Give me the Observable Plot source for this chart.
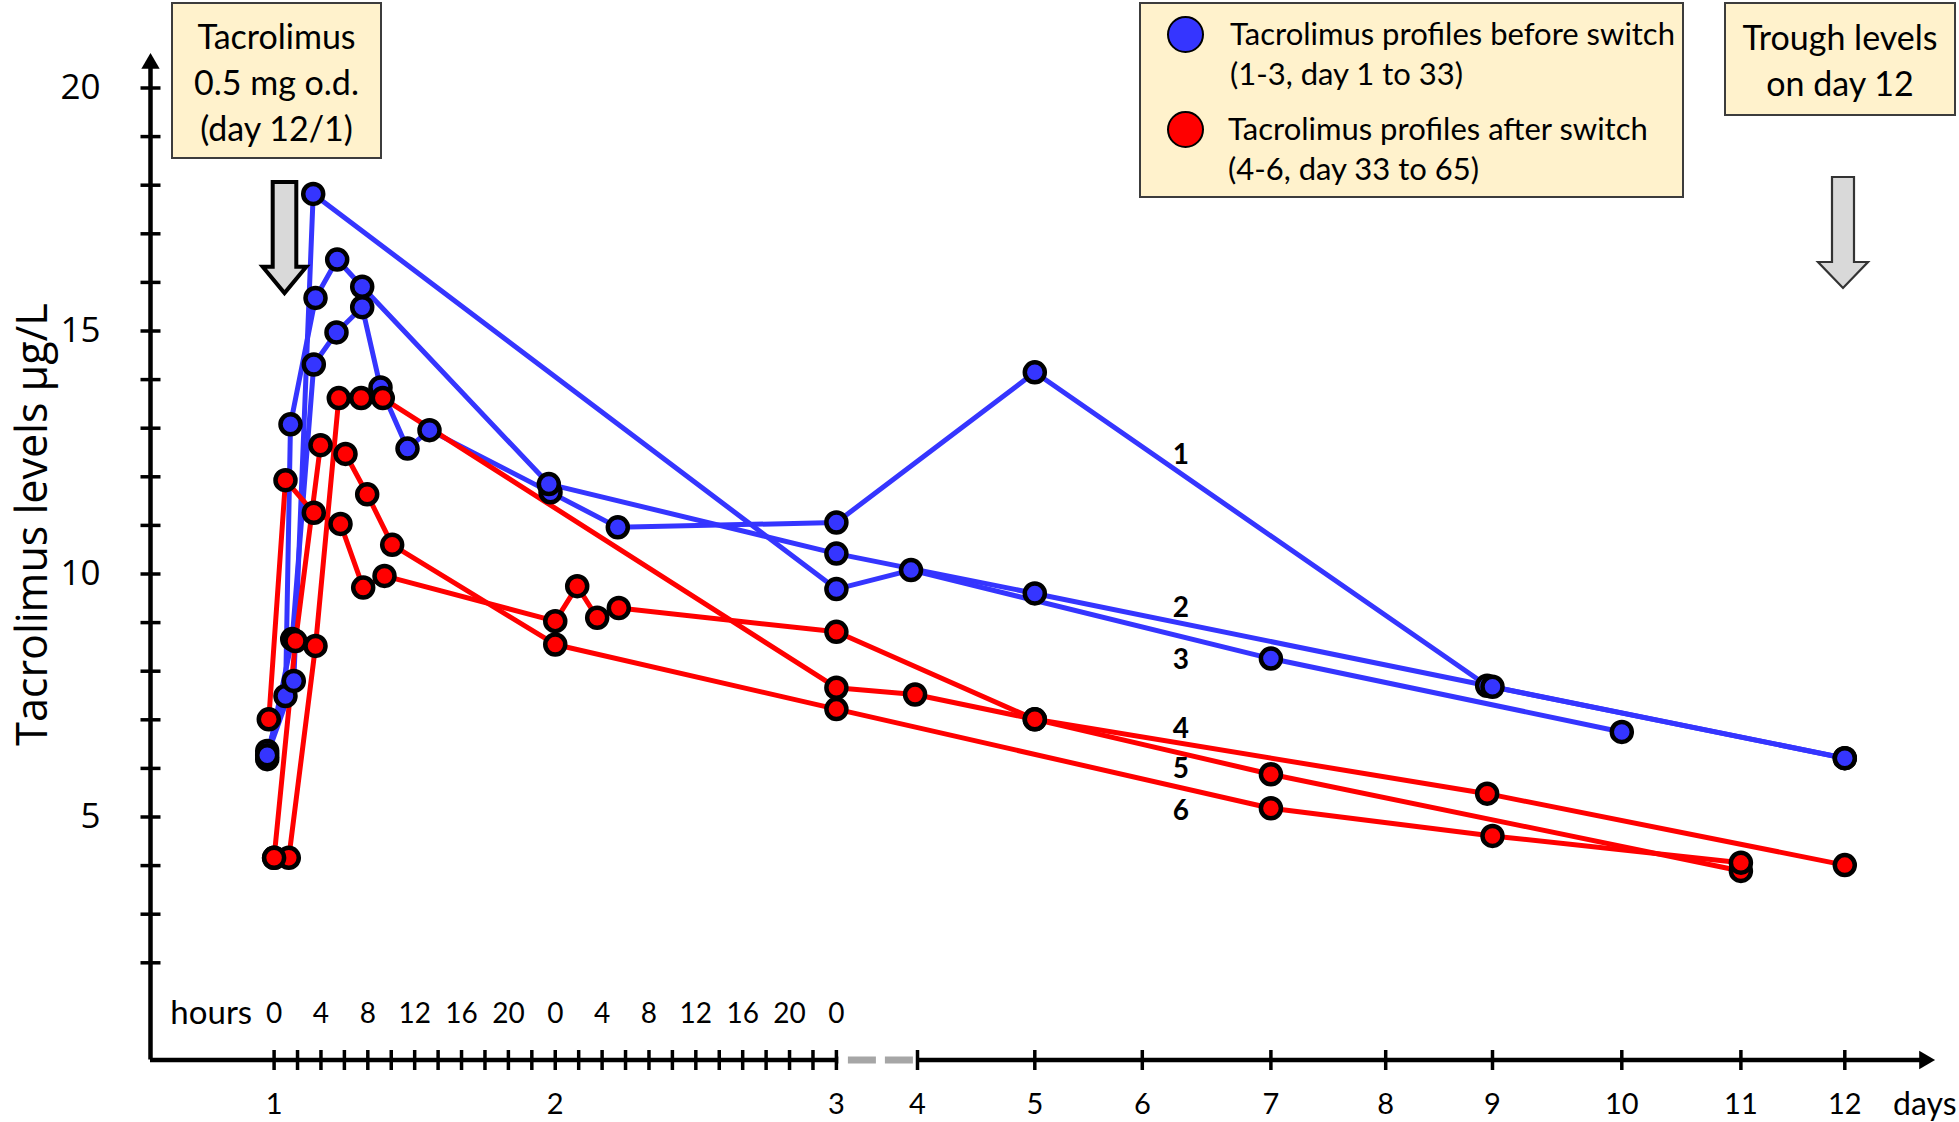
<!DOCTYPE html>
<html><head><meta charset="utf-8">
<script src="https://cdn.jsdelivr.net/npm/d3@7"></script>
<script src="https://cdn.jsdelivr.net/npm/@observablehq/plot@0.6"></script>
<style>
body{margin:0;background:#fff;}
#wrap{position:relative;width:1959px;height:1122px;overflow:hidden;background:#fff;}
#wrap > svg{position:absolute;left:0;top:0;}
.box{position:absolute;background:#fff2cc;border:2px solid #3c3c3c;box-sizing:border-box;font-family:Lato,sans-serif;color:#000;}
.ctr{text-align:center;font-size:34px;line-height:46px;}
.leg{position:absolute;font-family:Lato,sans-serif;font-size:31px;line-height:40px;white-space:nowrap;}
.sw{position:absolute;width:37px;height:37px;border-radius:50%;border:2px solid #000;box-sizing:border-box;}
.ov{position:absolute;left:0;top:0;}
</style></head><body><div id="wrap"></div>
<script>
// ---------- data ----------
const yDomain = [0, 20];
const yMinorTicks = [2,3,4,5,6,7,8,9,10,11,12,13,14,15,16,17,18,19,20];
const yLabelTicks = [5, 10, 15, 20];
const dayTicks = [1,2,3,4,5,6,7,8,9,10,11,12];
const hourLabelHours = [0,4,8,12,16,20,24,28,32,36,40,44,48];
const hourLabelText = ["0","4","8","12","16","20","0","4","8","12","16","20","0"];
const yTitle = "Tacrolimus levels µg/L";

// time in days (day 1, 0 h = 1.0), levels in µg/L
const p1Time  = [0.9755, 1.0644, 1.1412, 1.2219, 1.3134, 1.3784, 1.4745, 1.5527, 1.9831, 2.2225, 3, 5, 8.95, 12];
const p1Level = [6.19, 8.66, 14.31, 14.97, 15.49, 13.84, 12.58, 12.96, 11.68, 10.96, 11.06, 14.15, 7.70, 6.21];
const p2Time  = [0.9755, 1.0405, 1.0583, 1.1473, 1.2244, 1.3134, 1.9771, 3, 5, 9, 12];
const p2Level = [6.36, 7.49, 13.08, 15.68, 16.47, 15.91, 11.85, 10.42, 9.60, 7.68, 6.21];
const p3Time  = [0.9755, 1.0701, 1.1391, 3, 3.92, 7, 10];
const p3Level = [6.27, 7.80, 17.82, 9.69, 10.08, 8.26, 6.75];
const p4Time  = [0.9811, 1.0405, 1.1412, 1.2362, 1.3169, 1.3927, 2.0, 2.0781, 2.1492, 2.2260, 3, 5, 8.95, 12];
const p4Level = [7.01, 11.93, 11.26, 11.03, 9.72, 9.96, 9.03, 9.75, 9.10, 9.30, 8.81, 7.01, 5.48, 4.01];
const p5Time  = [1.0, 1.0523, 1.1473, 1.2301, 1.3098, 1.3866, 3, 3.97, 5, 7, 11];
const p5Level = [4.16, 4.16, 8.52, 13.62, 13.62, 13.62, 7.66, 7.52, 7.01, 5.88, 3.89];
const p6Time  = [1.0, 1.0761, 1.165, 1.254, 1.3311, 1.42, 2.0, 3, 7, 9, 11];
const p6Level = [4.16, 8.62, 12.65, 12.47, 11.64, 10.60, 8.55, 7.22, 5.18, 4.61, 4.06];

const profileNames = ["1","2","3","4","5","6"];
const profileGroup = ["before","before","before","after","after","after"];
const labelDay = [6.3, 6.3, 6.3, 6.3, 6.3, 6.3];
const labelLevel = [12.44, 9.31, 8.24, 6.80, 5.98, 5.13];

// ---------- layout / scales ----------
const W = 1959, H = 1122;
const marginLeft = 150, marginTop = 50, marginBottom = 62;
const xDomain = [1, 3, 4, 5, 6, 7, 8, 9, 10, 11, 12];
const xRange  = [273.6, 835.9, 917, 1034.3, 1141.8, 1270.4, 1385.2, 1492, 1621.3, 1740.4, 1844.3];
const yRange  = [1059.5, 87.5];
const BLUE = "#3535ff", RED = "#ff0000";

const xs = d3.scaleLinear(xDomain, xRange);
const ys = d3.scaleLinear(yDomain, yRange);
const xAxisAt = xs.invert(marginLeft);
const xArrowAt = xs.invert(W - 35);
const yArrowAt = ys.invert(63);
const xTitleAt = xs.invert(33);
const yTitleAt = ys.invert(524);

const times = [p1Time,p2Time,p3Time,p4Time,p5Time,p6Time];
const levels = [p1Level,p2Level,p3Level,p4Level,p5Level,p6Level];
const rows = [];
times.forEach((T, i) => T.forEach((t, j) => rows.push({profile: profileNames[i], group: profileGroup[i], t, v: levels[i][j]})));
const blueRows = rows.filter(d => d.group === "before");
const redRows = rows.filter(d => d.group === "after");

const hourTicks = d3.range(0, 25).map(k => 1 + k / 12);
const xTicks = hourTicks.concat([4,5,6,7,8,9,10,11,12]);

const hline = {draw(ctx, size){const r = Math.sqrt(size/Math.PI); ctx.moveTo(-r,0); ctx.lineTo(r,0);}};
const vline = {draw(ctx, size){const r = Math.sqrt(size/Math.PI); ctx.moveTo(0,-r); ctx.lineTo(0,r);}};

const plot = Plot.plot({
  width: W, height: H,
  marginLeft, marginRight: 25, marginTop, marginBottom,
  x: {type: "linear", domain: xDomain, range: xRange, axis: null},
  y: {type: "linear", domain: yDomain, range: yRange, axis: null},
  style: {background: "transparent", overflow: "visible"},
  marks: [
    // y axis
    Plot.ruleX([{x: xAxisAt, y1: 0, y2: yArrowAt}], {x: "x", y1: "y1", y2: "y2", stroke: "black", strokeWidth: 4.5}),
    Plot.dot([{x: xAxisAt, y: yArrowAt}], {x: "x", y: "y", symbol: "triangle", r: 6.8, fill: "black", stroke: "none"}),
    Plot.dot(yMinorTicks, {x: () => xAxisAt, y: d => d, symbol: hline, r: 10, stroke: "black", strokeWidth: 3.5, fill: "none"}),
    Plot.text(yLabelTicks, {x: () => xAxisAt, y: d => d, text: d => String(d), dx: -50, textAnchor: "end", fontFamily: "Open Sans", fontSize: 35, fill: "black"}),
    Plot.text([yTitle], {x: () => xTitleAt, y: () => yTitleAt, text: d => d, rotate: -90, fontFamily: "Open Sans", fontSize: 43, fill: "black"}),
    // x axis
    Plot.ruleY([{x1: xAxisAt, x2: 3}, {x1: 4, x2: xArrowAt}], {x1: "x1", x2: "x2", y: () => 0, stroke: "black", strokeWidth: 4.5}),
    Plot.ruleY([{x1: 3, x2: 4}], {x1: "x1", x2: "x2", y: () => 0, stroke: "#a6a6a6", strokeWidth: 7, strokeDasharray: "28 9", strokeDashoffset: 25}),
    Plot.dot([{x: xArrowAt, y: 0}], {x: "x", y: "y", symbol: "triangle", rotate: 90, r: 6.8, fill: "black", stroke: "none"}),
    Plot.dot(xTicks, {x: d => d, y: () => 0, symbol: vline, r: 10, stroke: "black", strokeWidth: 3.5, fill: "none"}),
    Plot.text(hourLabelHours, {x: d => 1 + d / 24, y: () => 0, text: (d, i) => hourLabelText[i], dy: -46, fontFamily: "Lato", fontSize: 28, fill: "black"}),
    Plot.text(["hours"], {x: () => 1, y: () => 0, text: d => d, dx: -22, dy: -47, textAnchor: "end", fontFamily: "Lato", fontSize: 33, fill: "black"}),
    Plot.text(dayTicks, {x: d => d, y: () => 0, text: d => String(d), dy: 45, fontFamily: "Lato", fontSize: 29, fill: "black"}),
    Plot.text(["days"], {x: () => 12, y: () => 0, text: d => d, dx: 80, dy: 45, fontFamily: "Lato", fontSize: 32, fill: "black"}),
    // profiles
    Plot.line(blueRows, {x: "t", y: "v", z: "profile", stroke: BLUE, strokeWidth: 5, curve: "linear"}),
    Plot.line(redRows, {x: "t", y: "v", z: "profile", stroke: RED, strokeWidth: 5, curve: "linear"}),
    Plot.dot(blueRows, {x: "t", y: "v", r: 10, fill: BLUE, stroke: "black", strokeWidth: 4.5}),
    Plot.dot(redRows, {x: "t", y: "v", r: 10, fill: RED, stroke: "black", strokeWidth: 4.5}),
    Plot.text(profileNames, {x: (d, i) => labelDay[i], y: (d, i) => labelLevel[i], text: d => d, fontFamily: "Lato", fontWeight: "bold", fontSize: 28, fill: "black"})
  ]
});

const wrap = document.getElementById("wrap");
wrap.appendChild(plot);

// ---------- annotations ----------
const html = `
<div class="box" style="left:171px;top:2px;width:211px;height:157px;">
  <div class="ctr" style="padding-top:9px;">Tacrolimus<br>0.5 mg o.d.<br>(day 12/1)</div>
</div>
<div class="box" style="left:1139px;top:2px;width:545px;height:196px;"></div>
<div class="sw" style="left:1167px;top:16px;background:${BLUE};"></div>
<div class="sw" style="left:1167px;top:111px;background:${RED};"></div>
<div class="leg" style="left:1230px;top:13px;">Tacrolimus profiles before switch<br>(1-3, day 1 to 33)</div>
<div class="leg" style="left:1228px;top:108px;">Tacrolimus profiles after switch<br>(4-6, day 33 to 65)</div>
<div class="box" style="left:1724px;top:2px;width:232px;height:114px;">
  <div class="ctr" style="padding-top:10px;">Trough levels<br>on day 12</div>
</div>
<svg class="ov" width="${W}" height="${H}">
  <polygon points="272.7,182 296.3,182 296.3,266.7 306.3,266.7 284.5,293 262.7,266.7 272.7,266.7" fill="#d9d9d9" stroke="#000" stroke-width="4" stroke-linejoin="miter"/>
  <polygon points="1832,177 1854,177 1854,262 1868,262 1843,288 1818,262 1832,262" fill="#d9d9d9" stroke="#333" stroke-width="2.2"/>
</svg>`;
wrap.insertAdjacentHTML("beforeend", html);
</script>
</body></html>
